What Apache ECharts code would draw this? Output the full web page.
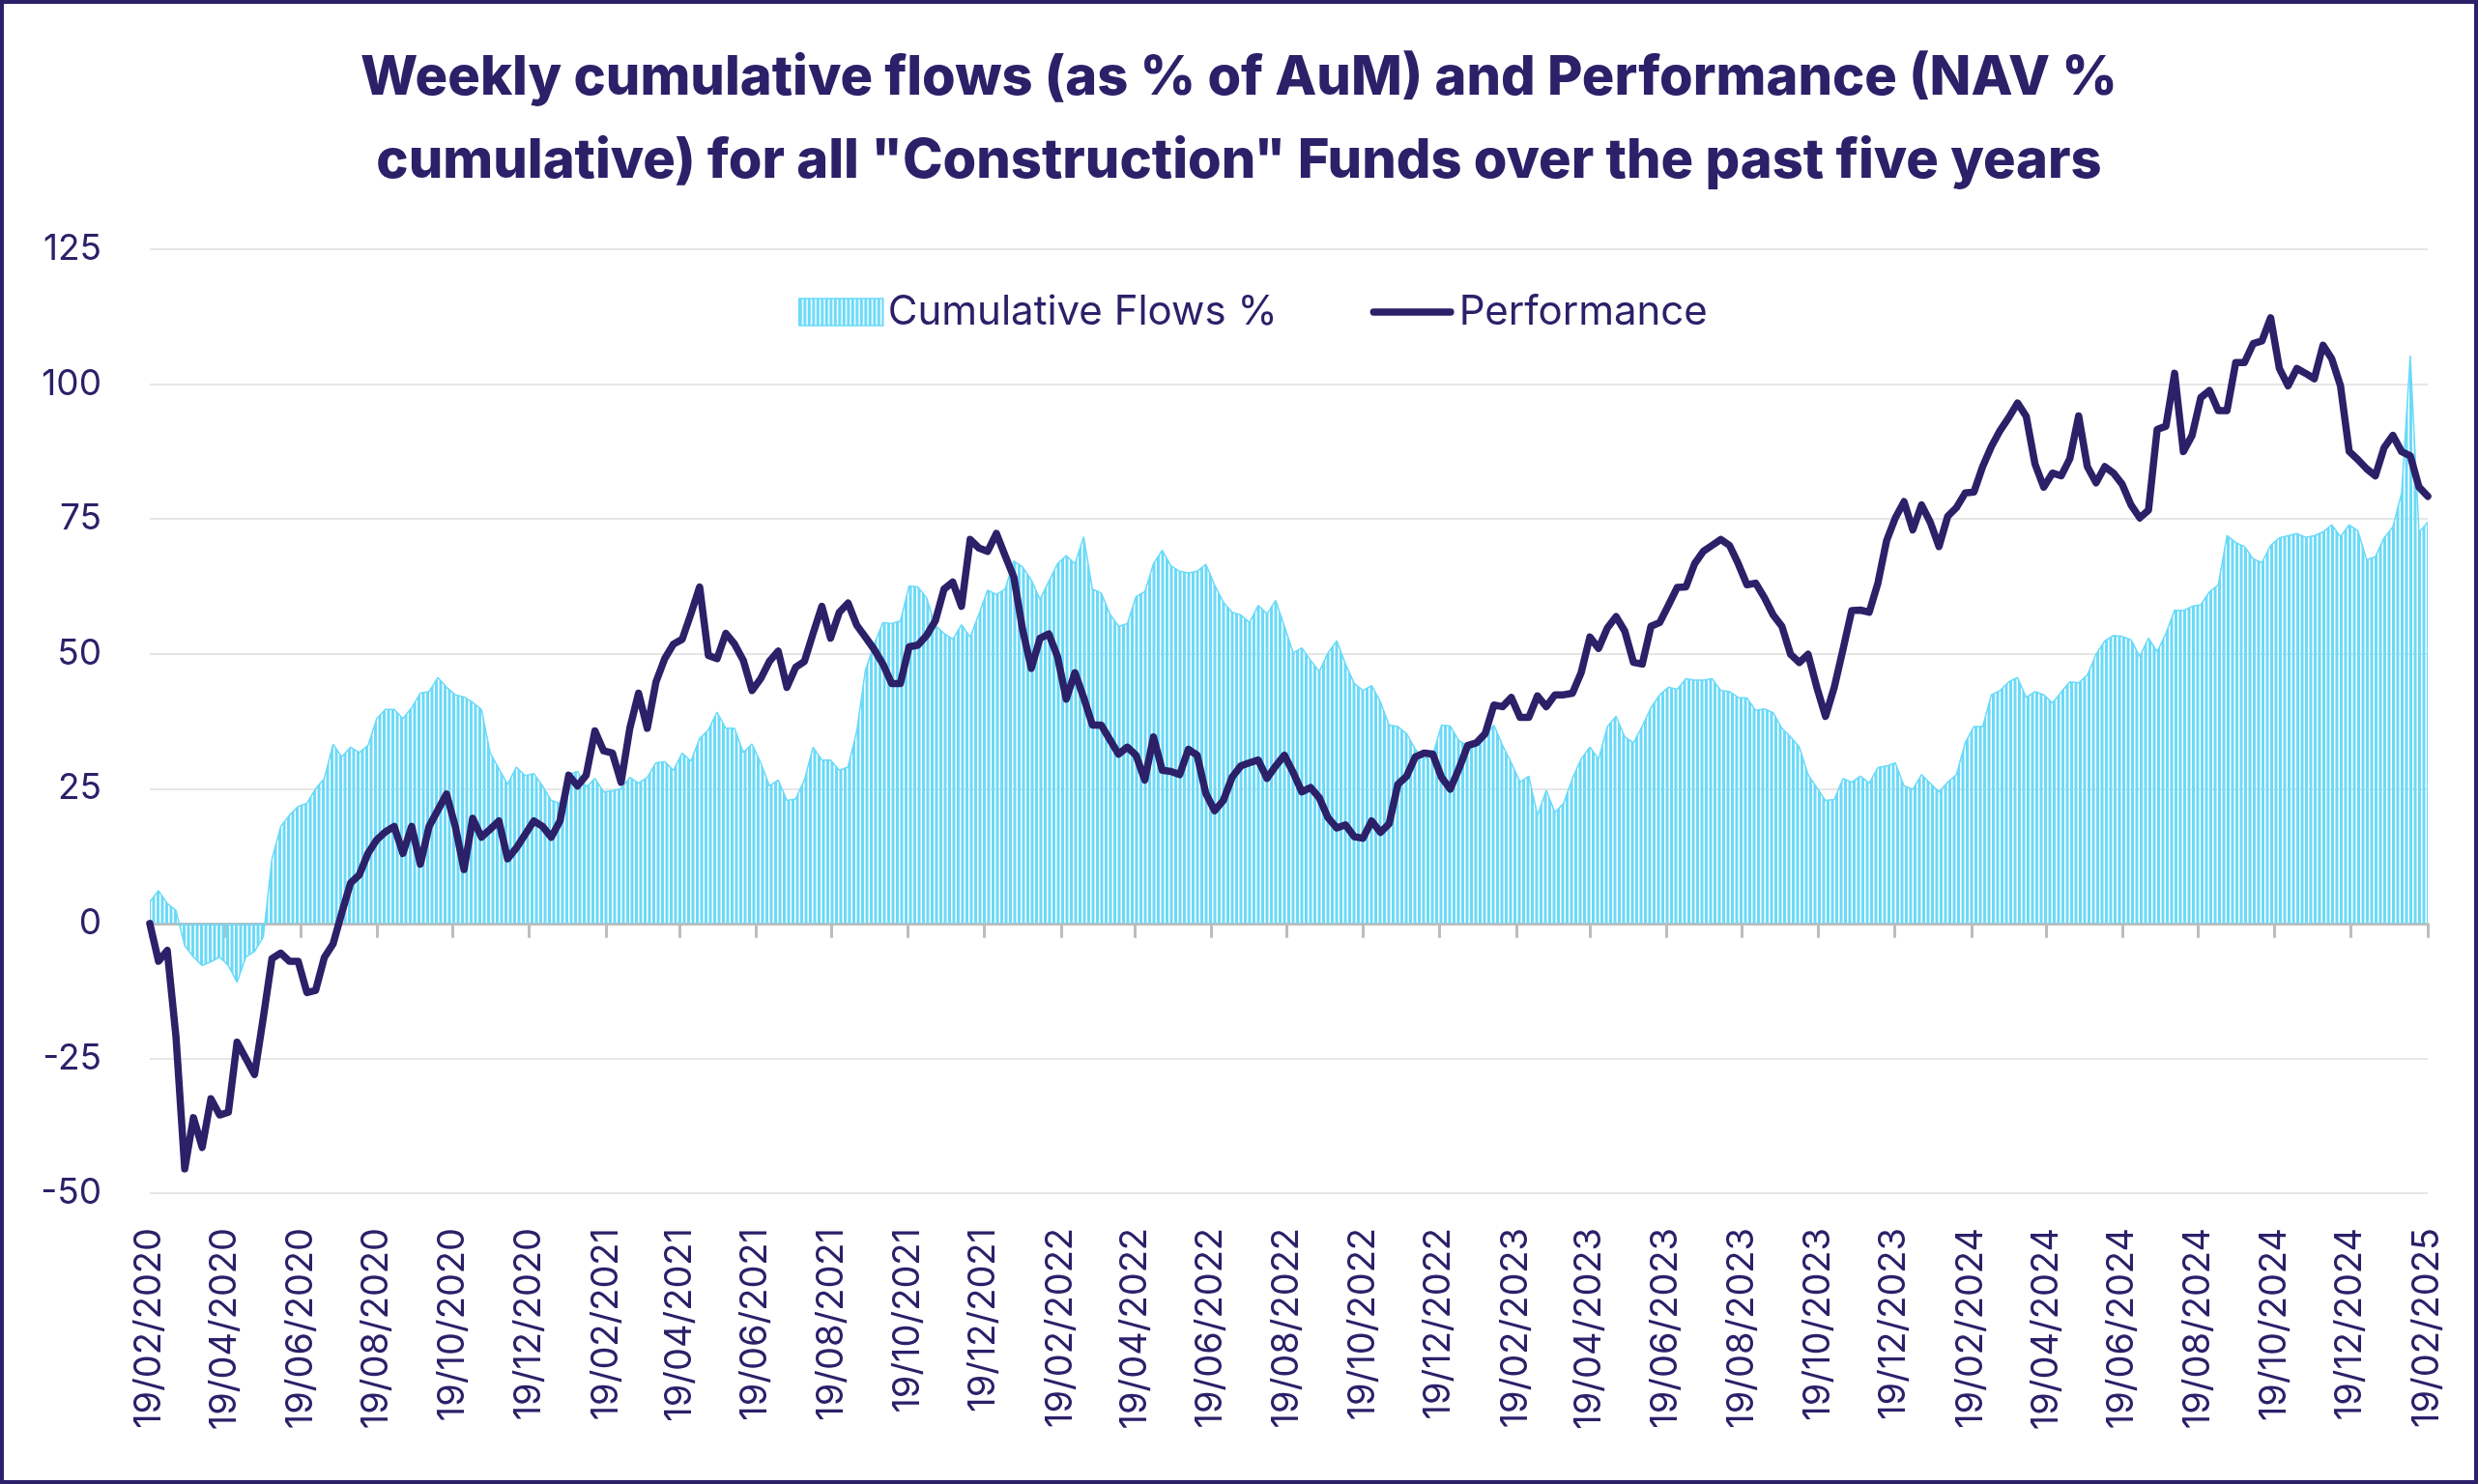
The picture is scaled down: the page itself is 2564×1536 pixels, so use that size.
<!DOCTYPE html>
<html><head><meta charset="utf-8">
<script src="https://cdn.jsdelivr.net/npm/echarts@6/dist/echarts.min.js"></script>
<style>html,body{margin:0;padding:0;background:#fff}#chart{width:2564px;height:1536px}</style>
</head><body><div id="chart"></div>
<script>
// ---- data ----
const startDate = '19/02/2020';   // first weekly observation
const tickLabels = ['19/02/2020','19/04/2020','19/06/2020','19/08/2020','19/10/2020','19/12/2020',
  '19/02/2021','19/04/2021','19/06/2021','19/08/2021','19/10/2021','19/12/2021',
  '19/02/2022','19/04/2022','19/06/2022','19/08/2022','19/10/2022','19/12/2022',
  '19/02/2023','19/04/2023','19/06/2023','19/08/2023','19/10/2023','19/12/2023',
  '19/02/2024','19/04/2024','19/06/2024','19/08/2024','19/10/2024','19/12/2024','19/02/2025'];
const flows = [
  4,6.1,3.7,2.4,-4.1,-6.2,-7.8,-7.1,-6.2,-7.8,-10.9,-6.2,-5.2,-2.5,12,18,20.1,21.7,22.3,25,26.9,33.2,30.9,32.7,31.7,33,38,39.7,39.7,38,40,42.7,43,45.6,43.8,42.4,42,41,39.7,31.6,28.7,25.8,29,27.4,27.8,25.5,22.8,22.3,27.6,28.2,25.3,26.9,24.4,
  24.6,25,27.1,26,27.1,29.8,30,28.4,31.6,30.1,34.3,35.9,39.2,36.2,36.2,31.7,33.3,29.8,25.5,26.6,22.8,23.1,26.6,32.7,30.3,30.3,28.4,29,35.7,47,51.8,55.8,55.6,56.1,62.6,62.4,60.4,55.3,53.8,52.7,55.4,53.1,57.4,61.8,61,62,67.2,66.1,63.7,60.1,63.4,66.7,
  68.2,66.7,71.7,62,61.3,57.4,55.1,55.6,60.6,61.5,66.7,69.2,66.3,65.3,65,65.3,66.6,62.8,59.6,57.7,57.2,55.8,59,57.4,59.9,55.1,50.2,51.1,48.8,46.7,50.2,52.4,48.1,44.5,43.2,44.1,41.1,36.8,36.5,35.2,32.3,30.5,31.2,36.8,36.6,33.9,33,33,34.6,36.8,33,29.8,
  26.2,27.3,20.1,24.7,20.6,22.3,26.9,30.5,32.7,30.5,36.5,38.4,34.6,33.5,36.6,40,42.4,43.8,43.4,45.4,45.1,45.1,45.4,43.2,43,41.9,41.8,39.5,39.8,39.1,36.2,34.6,32.7,27.6,25.2,22.8,23,26.9,26.2,27.3,26,28.9,29.2,29.8,25.5,24.9,27.6,26,24.4,26.2,27.6,33.5,
  36.5,36.5,42.4,43.2,44.8,45.6,41.9,43,42.4,40.9,42.9,44.8,44.6,46.1,49.9,52.4,53.4,53.2,52.6,49.5,52.9,50.4,53.8,58.1,58,58.8,59.1,61.5,62.8,71.9,70.6,69.9,67.6,66.9,70.1,71.5,71.9,72.3,71.6,71.9,72.6,73.9,71.7,73.9,72.8,67.4,68,71.5,73.5,79.8,105.3,72.5,74.4
];
const performance = [
  0,-7,-5,-21,-45.5,-36,-41.5,-32.5,-35.5,-35,-22,-25,-28,-17.5,-6.5,-5.5,-7,-7,-12.8,-12.4,-6.3,-3.8,2,7.5,9,13,15.5,17,18,13,18,11,18,21,24,18,10,19.5,16,17.5,19,12,14,16.5,19,18,16,19,27.5,25.5,27.5,35.7,32,
  31.6,26.2,36.2,42.7,36.2,44.8,49.1,51.8,52.7,57.4,62.4,49.7,49.1,53.8,51.8,48.8,43.2,45.4,48.6,50.5,43.8,47.5,48.6,53.8,58.8,52.9,57.7,59.4,55.3,53.1,50.8,48.1,44.5,44.5,51.3,51.6,53.4,56.1,62,63.3,58.8,71.2,69.6,69,72.3,68.2,64.2,54.5,47.3,52.9,53.7,49.5,
  41.6,46.5,41.9,36.8,36.8,34.1,31.4,32.7,31.2,26.6,34.6,28.4,28.2,27.6,32.3,31.2,24.1,20.9,22.8,27.1,29.2,29.8,30.3,26.9,29.2,31.2,28,24.4,25.2,23.3,19.6,17.7,18.3,16.1,15.8,19,16.9,18.5,25.8,27.3,30.9,31.6,31.4,27.1,24.9,28.7,33,33.5,35.2,40.5,40.2,41.9,
  38.2,38.2,42.2,40.2,42.4,42.4,42.7,46.5,53.1,51,54.8,56.9,54.2,48.4,48.1,55.1,55.8,59,62.3,62.4,66.7,69,70.1,71.2,70.1,66.7,62.8,63.1,60.4,57.2,55.1,49.9,48.4,49.9,43.8,38.4,43.8,50.8,58,58.1,57.7,63.1,71,75.2,78.2,73,77.6,74.4,69.9,75.5,77.1,79.8,
  80,84.7,88.4,91.4,93.8,96.5,94,85.2,80.9,83.5,83,86.2,94.1,84.7,81.7,84.7,83.5,81.4,77.6,75.2,76.6,91.6,92.2,102,87.5,90.5,97.5,98.8,95.1,95.1,104,104,107.5,108,112.3,102.9,99.7,102.9,102,101,107.2,104.7,99.7,87.5,86,84.3,83,88.2,90.5,87.5,86.7,80.9,79.2
];
const yMin = -50, yMax = 125, yStep = 25;

// ---- helpers ----
const NAVY = '#2C2069', CYAN = '#6BDAF8', FONT = 'Inter, "Noto Sans", sans-serif';
function parseDMY(s){ const p = s.split('/'); return Date.UTC(+p[2], +p[1]-1, +p[0]); }
function fmt(v){ const d = new Date(v); return String(d.getUTCDate()).padStart(2,'0') + '/' + String(d.getUTCMonth()+1).padStart(2,'0') + '/' + d.getUTCFullYear(); }
const WEEK = 7*86400000;
const start = parseDMY(startDate);
const dates = flows.map((_, i) => start + i*WEEK);
const tickValues = tickLabels.map(parseDMY);

const pc = document.createElement('canvas'); pc.width = 9; pc.height = 8;
const ctx = pc.getContext('2d');
ctx.fillStyle = CYAN; ctx.fillRect(0,0,3,8); ctx.fillRect(4.5,0,3,8);
const pattern = { image: pc, repeat: 'repeat' };

const chart = echarts.init(document.getElementById('chart'), null, {renderer: 'canvas'});
chart.setOption({
  animation: false,
  backgroundColor: '#fff',
  title: {
    text: 'Weekly cumulative flows (as % of AuM) and Performance (NAV %\ncumulative) for all "Construction" Funds over the past five years',
    left: 'center', top: 33,
    textStyle: { fontFamily: FONT, fontSize: 56, fontWeight: 800, color: NAVY, lineHeight: 86 }
  },
  legend: {
    top: 297, left: 821, itemWidth: 87, itemHeight: 28, itemGap: 96,
    textStyle: { fontFamily: FONT, fontSize: 42, color: NAVY },
    data: [
      { name: 'Cumulative Flows %', icon: 'rect', itemStyle: { color: pattern, borderColor: CYAN, borderWidth: 1.5 } },
      { name: 'Performance', icon: 'path://M4,0 H91 A4,4 0 0 1 91,8 H4 A4,4 0 0 1 4,0 Z', itemStyle: { color: NAVY } }
    ]
  },
  grid: { left: 155, right: 52, top: 258, bottom: 301, containLabel: false },
  xAxis: [
    { type: 'value', min: start, max: dates[dates.length-1], position: 'bottom',
      axisLine: { show: false, onZero: false }, axisTick: { show: false }, splitLine: { show: false },
      axisLabel: { customValues: tickValues, formatter: fmt, rotate: 90, margin: 36, fontSize: 38, color: NAVY, fontFamily: FONT } },
    { type: 'value', min: start, max: dates[dates.length-1], position: 'bottom',
      axisLine: { show: true, onZero: true, lineStyle: { color: '#BDBDBD', width: 3 } },
      axisTick: { show: true, customValues: tickValues, length: 15, lineStyle: { color: '#BDBDBD', width: 3 } },
      axisLabel: { show: false }, splitLine: { show: false } }
  ],
  yAxis: {
    type: 'value', min: yMin, max: yMax, interval: yStep,
    axisLine: { show: false }, axisTick: { show: false },
    splitLine: { lineStyle: { color: '#E6E6E6', width: 2 } },
    axisLabel: { margin: 50, fontSize: 37, color: NAVY, fontFamily: FONT }
  },
  series: [
    { name: 'Cumulative Flows %', type: 'line', xAxisIndex: 0, symbol: 'none', z: 2,
      data: dates.map((d, i) => [d, flows[i]]),
      lineStyle: { color: CYAN, width: 1.5 }, itemStyle: { color: CYAN },
      areaStyle: { color: pattern, opacity: 1 } },
    { name: 'Performance', type: 'line', xAxisIndex: 0, symbol: 'none', z: 3,
      data: dates.map((d, i) => [d, performance[i]]),
      lineStyle: { color: NAVY, width: 7.5, cap: 'round', join: 'round' }, itemStyle: { color: NAVY } }
  ],
  graphic: [{ type: 'rect', silent: true, z: 100,
    shape: { x: 2, y: 2, width: 2560, height: 1532 },
    style: { fill: 'none', stroke: NAVY, lineWidth: 4 } }]
});
</script></body></html>
